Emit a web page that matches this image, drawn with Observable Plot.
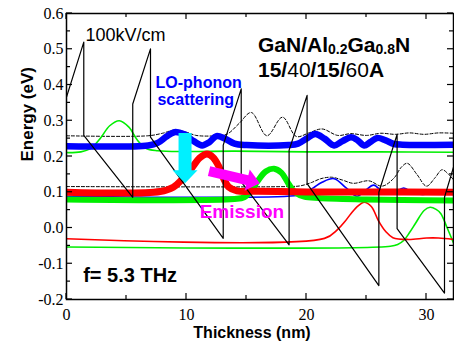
<!DOCTYPE html>
<html><head><meta charset="utf-8">
<script src="https://cdn.jsdelivr.net/npm/d3@7"></script>
<script src="https://cdn.jsdelivr.net/npm/@observablehq/plot@0.6"></script>
<style>body{margin:0;background:#fff}</style>
</head><body><div id="chart"></div>
<script>
const SANS = "'Liberation Sans', Arial, sans-serif";
const SERIF = "'Liberation Serif', 'Times New Roman', serif";

// conduction band profile (vertices)
const bandX = [0, 1.44, 1.44, 5.52, 5.52, 7.0, 7.0, 13.06, 13.06, 14.56, 14.56, 18.55, 18.55, 20.05, 20.05, 26.03, 26.03, 27.55, 27.55, 31.5, 31.5, 32.25];
const bandE = [0.366, 0.52, 0.259, 0.086, 0.347, 0.501, 0.254, -0.029, 0.232, 0.389, 0.129, -0.047, 0.218, 0.371, 0.124, -0.161, 0.1, 0.262, -0.002, -0.182, 0.086, 0.17];

// dashed wavefunctions
const dashUX = [0, 6.8, 8.0, 9.0, 10.0, 10.8, 12.5, 13.4, 14.4, 15.4, 16.7, 18.0, 19.15, 20.2, 21.3, 22.6, 23.7, 25.0, 26.2, 27.4, 28.6, 29.8, 31.0, 32.25];
const dashUE = [0.258, 0.258, 0.265, 0.274, 0.268, 0.259, 0.258, 0.263, 0.293, 0.323, 0.258, 0.310, 0.256, 0.266, 0.277, 0.259, 0.264, 0.259, 0.265, 0.262, 0.266, 0.262, 0.266, 0.265];
const dashLX = [0, 18.5, 19.5, 20.4, 21.2, 22.1, 23.0, 23.9, 25.2, 26.3, 27.3, 27.9, 28.4, 29.2, 30.0, 30.7, 31.3, 31.9, 32.25];
const dashLE = [0.116, 0.116, 0.118, 0.127, 0.138, 0.142, 0.134, 0.125, 0.132, 0.117, 0.140, 0.170, 0.181, 0.150, 0.117, 0.140, 0.163, 0.148, 0.135];

// thick wavefunctions
const blueThickX = [0, 6.8, 7.6, 8.3, 9.0, 9.8, 10.6, 11.3, 11.9, 12.5, 13.2, 14.0, 15.0, 18.5, 19.3, 20.0, 20.75, 21.5, 22.3, 23.0, 23.7, 24.2, 24.8, 25.3, 25.9, 26.6, 27.3, 28.0, 32.25];
const blueThickE = [0.229, 0.231, 0.238, 0.255, 0.268, 0.262, 0.243, 0.231, 0.240, 0.257, 0.250, 0.236, 0.232, 0.232, 0.236, 0.250, 0.263, 0.250, 0.231, 0.243, 0.254, 0.247, 0.231, 0.240, 0.252, 0.245, 0.235, 0.233, 0.233];
const redThickX = [0, 7.8, 8.9, 9.6, 10.4, 11.1, 11.7, 12.2, 12.7, 13.1, 13.5, 14.2, 16, 20, 25, 32.25];
const redThickE = [0.100, 0.102, 0.114, 0.135, 0.166, 0.196, 0.207, 0.198, 0.172, 0.138, 0.115, 0.104, 0.103, 0.101, 0.101, 0.100];
const greenThickX = [0, 14.0, 14.8, 15.4, 15.9, 16.6, 17.3, 17.9, 18.5, 19.1, 19.8, 21, 25, 28, 32.25];
const greenThickE = [0.080, 0.081, 0.086, 0.105, 0.130, 0.158, 0.166, 0.155, 0.124, 0.098, 0.088, 0.084, 0.080, 0.078, 0.077];

// thin wavefunctions
const greenThinUX = [0, 1.2, 2.0, 2.8, 3.6, 4.4, 5.2, 5.9, 6.6, 7.6, 10, 14, 20, 26, 32.25];
const greenThinUE = [0.211, 0.213, 0.222, 0.250, 0.286, 0.300, 0.282, 0.246, 0.223, 0.216, 0.214, 0.215, 0.213, 0.213, 0.212];
const blueThinX = [0, 19.0, 19.8, 20.6, 21.3, 22.3, 23.3, 24.2, 24.9, 25.6, 26.4, 27.2, 28.1, 28.9, 29.7, 30.5, 31.3, 32.25];
const blueThinE = [0.089, 0.090, 0.096, 0.113, 0.128, 0.138, 0.112, 0.089, 0.105, 0.120, 0.100, 0.098, 0.112, 0.098, 0.094, 0.099, 0.097, 0.100];
const redThinX = [0, 21.5, 22.6, 23.2, 23.7, 24.3, 24.8, 25.4, 26.0, 26.6, 27.2, 28.5, 30, 31, 32.25];
const redThinE = [-0.030, -0.029, -0.004, 0.018, 0.040, 0.062, 0.072, 0.060, 0.020, -0.010, -0.027, -0.032, -0.028, -0.028, -0.032];
const greenThinLX = [0, 27.0, 27.6, 28.1, 28.6, 29.1, 29.8, 30.3, 30.8, 31.2, 31.7, 32.25];
const greenThinLE = [-0.053, -0.051, -0.046, -0.035, -0.012, 0.014, 0.049, 0.058, 0.052, 0.040, 0.002, -0.042];

// arrows (LO-phonon scattering, emission)
const arrowX1 = [9.92, 11.92];
const arrowY1 = [0.264, 0.158];
const arrowX2 = [9.92, 16.15];
const arrowY2 = [0.124, 0.124];

// ticks
const xMajor = [0, 10, 20, 30];
const xMinor = [5, 15, 25];
const yMajor = [-0.2, -0.1, 0, 0.1, 0.2, 0.3, 0.4, 0.5, 0.6];
const yMinor = [-0.15, -0.05, 0.05, 0.15, 0.25, 0.35, 0.45, 0.55];
const xDomain = [0, 32.25];
const yDomain = [-0.2, 0.6];

const toPts = (xs, ys) => xs.map((x, i) => ({x, y: ys[i]}));

const GREEN = "#00ee00", RED = "#ff0000", BLUE = "#0000ff";

function wave(xs, ys, stroke, strokeWidth, extra = {}) {
  return Plot.line(toPts(xs, ys), {x: "x", y: "y", stroke, strokeWidth, curve: "catmull-rom", clip: true, ...extra});
}

function frameTicks(index, scales) {
  const x = scales.x, y = scales.y;
  const g = d3.create("svg:g").attr("stroke", "black").attr("stroke-width", 1.2);
  const X0 = x(xDomain[0]), X1 = x(xDomain[1]), Y0 = y(yDomain[0]), Y1 = y(yDomain[1]);
  const seg = (a, b, c, d) => g.append("line").attr("x1", a).attr("y1", b).attr("x2", c).attr("y2", d);
  for (const [vals, L] of [[xMajor, 6], [xMinor, 4]]) for (const v of vals) { const p = x(v); seg(p, Y0, p, Y0 - L); seg(p, Y1, p, Y1 + L); }
  for (const [vals, L] of [[yMajor, 6], [yMinor, 4]]) for (const v of vals) { const p = y(v); seg(X0, p, X0 + L, p); seg(X1, p, X1 - L, p); }
  return g.node();
}

function blockArrow(i, fill, bodyW, headW, headL) {
  return (index, scales) => {
    const X1 = scales.x(arrowX1[i]), Y1 = scales.y(arrowY1[i]), X2 = scales.x(arrowX2[i]), Y2 = scales.y(arrowY2[i]);
    const dx = X2 - X1, dy = Y2 - Y1, L = Math.hypot(dx, dy);
    const ux = dx / L, uy = dy / L, px = -uy, py = ux;
    const bx = X2 - ux * headL, by = Y2 - uy * headL;
    const pts = [
      [X1 + px * bodyW / 2, Y1 + py * bodyW / 2],
      [bx + px * bodyW / 2, by + py * bodyW / 2],
      [bx + px * headW / 2, by + py * headW / 2],
      [X2, Y2],
      [bx - px * headW / 2, by - py * headW / 2],
      [bx - px * bodyW / 2, by - py * bodyW / 2],
      [X1 - px * bodyW / 2, Y1 - py * bodyW / 2]
    ];
    return d3.create("svg:path").attr("d", "M" + pts.map(p => p.join(",")).join("L") + "Z").attr("fill", fill).node();
  };
}

function richText(x0, y0, parts, size, subSize) {
  return (index, scales) => {
    const t = d3.create("svg:text").attr("x", scales.x(x0)).attr("y", scales.y(y0))
      .attr("text-anchor", "start")
      .attr("font-family", SANS).attr("font-size", size).attr("fill", "black");
    let shifted = false;
    for (const p of parts) {
      const ts = t.append("tspan").attr("font-weight", p.b ? "bold" : "normal").text(p.t);
      if (p.sub) { ts.attr("font-size", subSize); if (!shifted) { ts.attr("dy", 2); shifted = true; } }
      else if (shifted) { ts.attr("dy", -2); shifted = false; }
    }
    return t.node();
  };
}

const txt = (x, y, text, opts) => Plot.text([0], {x: () => x, y: () => y, text: () => text, textAnchor: "start", lineAnchor: "bottom", fontFamily: SANS, ...opts});

const chart = Plot.plot({
  width: 454, height: 342,
  marginLeft: 66, marginRight: 1, marginTop: 13, marginBottom: 43,
  style: {fontFamily: SERIF, fontSize: "16px", background: "white", color: "black", overflow: "visible"},
  x: {domain: xDomain, ticks: xMajor, tickSize: 0, tickPadding: 9, tickFormat: d => String(d), label: null},
  y: {domain: yDomain, ticks: yMajor, tickSize: 0, tickPadding: 3, tickFormat: d => d.toFixed(1), label: null},
  marks: [
    wave(dashUX, dashUE, "black", 1, {strokeDasharray: "3,2"}),
    wave(dashLX, dashLE, "black", 1, {strokeDasharray: "3,2"}),
    wave(greenThinUX, greenThinUE, GREEN, 1.6),
    wave(greenThinLX, greenThinLE, GREEN, 1.6),
    wave(redThinX, redThinE, RED, 1.6),
    wave(blueThinX, blueThinE, BLUE, 1.6),
    wave(greenThickX, greenThickE, GREEN, 6),
    wave(redThickX, redThickE, RED, 7),
    wave(blueThickX, blueThickE, BLUE, 6.5),
    Plot.line(toPts(bandX, bandE), {x: "x", y: "y", stroke: "black", strokeWidth: 1.2, curve: "linear", clip: true}),
    blockArrow(0, "#00f0ff", 13, 25, 13),
    blockArrow(1, "#ff00ff", 10, 22, 13),
    Plot.frame({stroke: "black", strokeWidth: 1.5}),
    frameTicks,
    txt(1.58, 0.524, "100kV/cm", {fontSize: 18, fill: "black"}),
    richText(16.0, 0.492, [{t: "GaN/Al", b: 1}, {t: "0.2", b: 1, sub: 1}, {t: "Ga", b: 1}, {t: "0.8", b: 1, sub: 1}, {t: "N", b: 1}], 21, 14),
    richText(16.0, 0.422, [{t: "15", b: 1}, {t: "/", b: 1}, {t: "40"}, {t: "/", b: 1}, {t: "15", b: 1}, {t: "/", b: 1}, {t: "60"}, {t: "A", b: 1}], 21, 14),
    txt(7.42, 0.392, "LO-phonon", {fontSize: 16, fontWeight: "bold", fill: BLUE}),
    txt(7.58, 0.345, "scattering", {fontSize: 16, fontWeight: "bold", fill: BLUE}),
    txt(11.1, 0.028, "Emission", {fontSize: 19, fontWeight: "bold", fill: "#ff00ff"}),
    txt(1.39, -0.152, "f= 5.3 THz", {fontSize: 20, fontWeight: "bold", fill: "black"}),
    Plot.text([0], {frameAnchor: "bottom", text: () => "Thickness (nm)", lineAnchor: "bottom", dy: 38.5, dx: -8, fontFamily: SANS, fontWeight: "bold", fontSize: 16, fill: "black"}),
    Plot.text([0], {frameAnchor: "left", text: () => "Energy (eV)", rotate: -90, lineAnchor: "bottom", dx: -34, dy: 5, fontFamily: SANS, fontWeight: "bold", fontSize: 17, fill: "black"})
  ]
});
document.getElementById("chart").appendChild(chart);
</script></body></html>
